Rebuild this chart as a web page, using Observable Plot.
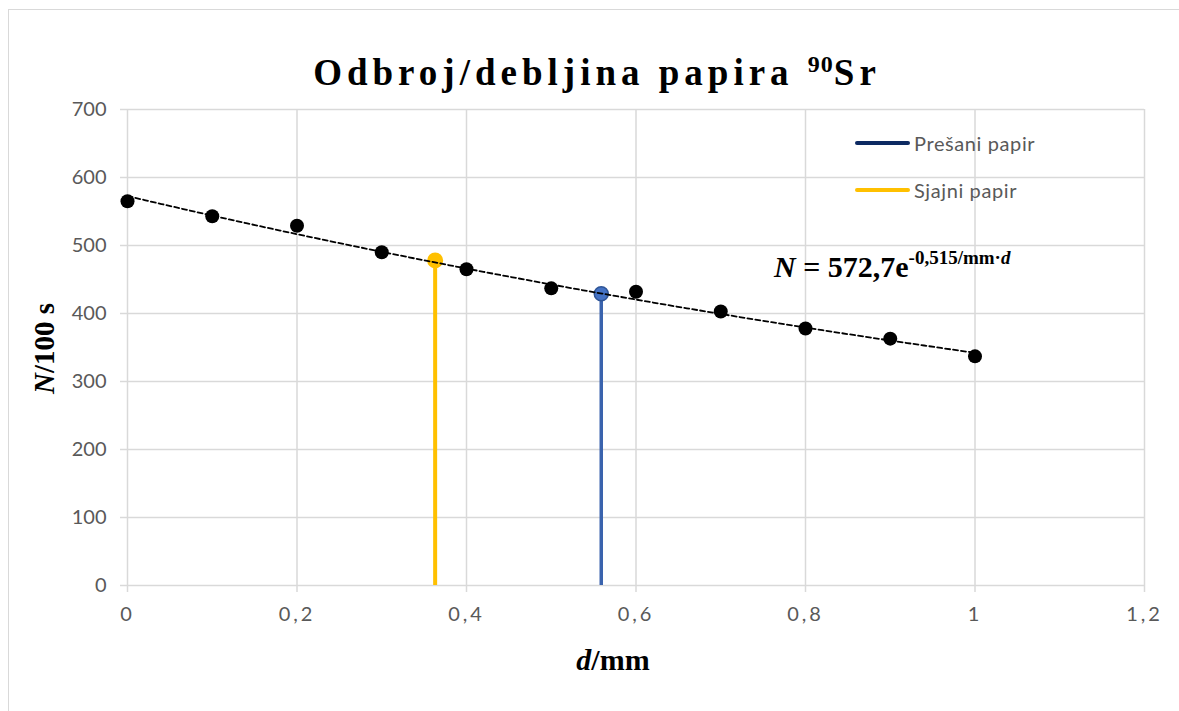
<!DOCTYPE html>
<html>
<head>
<meta charset="utf-8">
<script src="https://cdn.jsdelivr.net/npm/d3@7"></script>
<script src="https://cdn.jsdelivr.net/npm/@observablehq/plot@0.6"></script>
<style>
  html, body { margin: 0; padding: 0; background: #fff; }
  #wrap { position: relative; width: 1179px; height: 711px; overflow: hidden; }
  #frame { position: absolute; left: 8px; top: 9px; width: 1200px; height: 720px; border: 1.5px solid #d9d9d9; box-sizing: border-box; }
  .serif { font-family: "Liberation Serif", "Times New Roman", serif; font-weight: bold; color: #000; position: absolute; white-space: nowrap; line-height: 1; }
  .legend { position: absolute; font-family: Lato, sans-serif; font-size: 20px; color: #595959; letter-spacing: 0.6px; white-space: nowrap; line-height: 1; }
  .swatch { position: absolute; height: 4px; border-radius: 2px; width: 55px; }
  #chart { position: absolute; left: 0; top: 0; }
</style>
</head>
<body>
<div id="wrap">
  <div id="frame"></div>
  <div id="chart"></div>
  <div class="serif" id="title" style="left:0; width:1194px; text-align:center; top:54px; font-size:37px; letter-spacing:5px;">Odbroj/debljina papira <span style="font-size:24px; position:relative; top:-13px; letter-spacing:1px;">90</span>Sr</div>
  <div class="serif" id="eq" style="left:774px; top:252px; font-size:30px;"><i>N</i> = 572,7e<span style="font-size:19px; position:relative; top:-13px;">-0,515/mm·<i>d</i></span></div>
  <div class="serif" id="ylab" style="left:-56px; width:200px; text-align:center; top:334px; font-size:29px; transform:rotate(-90deg);"><i>N</i>/100 s</div>
  <div class="serif" id="xlab" style="left:513px; width:200px; text-align:center; top:645px; font-size:30px;"><i>d</i>/mm</div>
  <div class="swatch" style="left:855px; top:141px; background:#0d2a62;"></div>
  <div class="legend" style="left:914px; top:133px;">Prešani papir</div>
  <div class="swatch" style="left:855px; top:188px; background:#ffc000;"></div>
  <div class="legend" style="left:914px; top:180px;">Sjajni papir</div>
</div>
<script>
// data
const thickness = [0, 0.1, 0.2, 0.3, 0.4, 0.5, 0.6, 0.7, 0.8, 0.9, 1.0];
const counts    = [565, 543, 529, 490, 465, 437, 432, 403, 378, 363, 337];
const sjajniD = [0.363];
const sjajniN = [478];
const presaniD = [0.559];
const presaniN = [429];
// fitted trendline parameters shown in the chart: N = 572,7 e^(-0,515 d)
const fitA = 572.7;
const fitB = 0.515;
const xTicks = [0, 0.2, 0.4, 0.6, 0.8, 1.0, 1.2];
const yTicks = [0, 100, 200, 300, 400, 500, 600, 700];

const points = thickness.map((d, i) => ({d, n: counts[i]}));
const sjajni = sjajniD.map((d, i) => ({d, n: sjajniN[i]}));
const presani = presaniD.map((d, i) => ({d, n: presaniN[i]}));
const trend = d3.range(0, 51).map(i => { const d = i / 50; return {d, n: fitA * Math.exp(-fitB * d)}; });

const fmt = v => v === 0 ? "0" : (Number.isInteger(v) ? String(v) : v.toFixed(1).replace(".", ","));

const grid = "#d9d9d9";
const plot = Plot.plot({
  width: 1179,
  height: 711,
  marginLeft: 127,
  marginRight: 35,
  marginTop: 109,
  marginBottom: 126,
  style: {fontFamily: "Lato, sans-serif", fontSize: "20px", color: "#595959", background: "transparent", overflow: "visible"},
  x: {domain: [0, 1.2], ticks: xTicks},
  y: {domain: [0, 700], ticks: yTicks},
  marks: [
    Plot.ruleY(yTicks, {y: d => d, stroke: grid, strokeWidth: 1.5}),
    Plot.ruleX(xTicks, {x: d => d, stroke: grid, strokeWidth: 1.5}),
    Plot.axisY(yTicks, {tickSize: 7, tickPadding: 14, stroke: grid, strokeWidth: 1.5, fill: "#595959", tickFormat: fmt, label: null}),
    Plot.axisX(xTicks, {tickSize: 7, tickPadding: 14, stroke: grid, strokeWidth: 1.5, fill: "#595959", tickFormat: fmt, label: null}),
    Plot.ruleX(sjajni, {x: "d", y1: 0, y2: "n", stroke: "#ffc000", strokeWidth: 4}),
    Plot.ruleX(presani, {x: "d", y1: 0, y2: "n", stroke: "#3a63ad", strokeWidth: 3.5}),
    Plot.dot(points, {x: "d", y: "n", r: 7, fill: "#000", stroke: "none"}),
    Plot.dot(sjajni, {x: "d", y: "n", r: 8, fill: "#ffc000", stroke: "none"}),
    Plot.dot(presani, {x: "d", y: "n", r: 7, fill: "#4472c4", stroke: "#2f5597", strokeWidth: 1.5}),
    Plot.line(trend, {x: "d", y: "n", stroke: "#000", strokeWidth: 1.8, strokeDasharray: "5,3"})
  ]
});
document.getElementById("chart").appendChild(plot);
d3.select(plot).selectAll('[aria-label="x-axis tick label"] text').style("letter-spacing", "3px");
</script>
</body>
</html>
